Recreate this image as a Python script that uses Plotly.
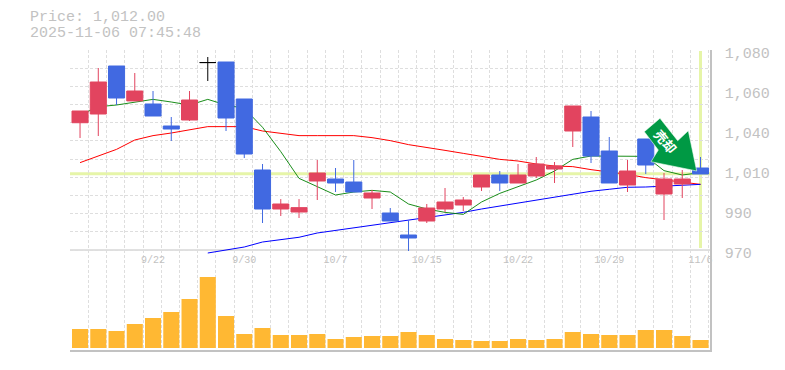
import plotly.graph_objects as go

dates = ["9/16","9/17","9/18","9/19","9/22","9/24","9/25","9/26","9/29","9/30","10/1","10/2","10/3","10/6","10/7","10/8","10/9","10/10","10/14","10/15","10/16","10/17","10/20","10/21","10/22","10/23","10/24","10/27","10/28","10/29","10/30","10/31","11/4","11/5","11/6"]
index = list(range(35))

# up = red body, down = blue body, index 7 is the black doji
opens = [1040.0,1044.8,1071.2,1052.0,1050.3,1038.2,1041.5,1073.1,1073.4,1053.05,1014.0,992.55,990.9,1007.95,1009.05,1007.4,998.6,990.35,978.25,985.95,992.55,994.75,1004.65,1011.25,1006.85,1010.7,1014.55,1035.45,1043.15,1024.45,1005.75,1031.05,1000.8,1006.3,1015.1]
closes = [1046.45,1062.4,1053.6,1057.45,1043.7,1036.55,1052.5,1073.1,1042.6,1022.8,992.55,995.3,993.3,1012.35,1006.85,1001.9,1001.35,985.95,976.6,993.1,996.4,997.5,1011.25,1006.85,1011.25,1017.3,1016.2,1049.2,1021.7,1006.85,1013.45,1016.75,1009.05,1009.05,1011.8]
highs = [1046.45,1070.1,1071.2,1067.35,1057.45,1043.15,1057.45,1076.15,1073.4,1053.05,1017.3,998.0,998.0,1019.5,1015.1,1019.5,1003.0,993.1,986.3,995.3,1004.1,999.15,1011.25,1013.45,1017.3,1021.15,1018.4,1049.2,1046.45,1032.15,1019.5,1031.05,1012.35,1014.0,1021.15]
lows = [1031.6,1032.7,1049.75,1051.95,1043.7,1029.95,1040.95,1062.95,1035.45,1020.6,984.85,988.7,987.6,997.5,1001.9,1001.9,992.55,985.95,969.45,984.85,990.9,991.45,1002.45,1002.45,1006.85,1009.6,1006.85,1026.65,1017.85,1006.85,1001.9,1011.8,986.5,998.6,1011.8]

ma_short = [1044.25,1048.8,1049.75,1051.4,1052.85,1051.4,1049.75,1052.85,1049.75,1047.9,1037.5,1024.1,1009.4,1004.85,1000.25,1001.9,1002.8,1001.9,995.3,992.55,990.7,989.6,996.4,1001.15,1004.85,1008.5,1013.45,1019.85,1021.7,1021.5,1021.5,1021.5,1013.65,1011.25,1012.55]
ma_mid = [1018.05,1021.7,1025.35,1030.5,1032.9,1034.35,1036.0,1037.85,1037.85,1037.85,1035.45,1034.0,1032.9,1032.9,1032.9,1032.9,1031.8,1030.15,1027.95,1026.5,1024.8,1023.15,1021.3,1019.85,1018.95,1017.3,1016.2,1015.85,1014.2,1012.9,1011.6,1009.8,1008.5,1007.0,1006.1]
ma_long = [None]*7 + [968.35,970.0,971.65,974.4,975.5,977.0,979.35,980.8,982.3,983.75,985.2,986.3,987.8,989.45,990.7,992.55,994.2,996.05,997.3,999.3,1001.0,1002.3,1003.4,1004.5,1004.65,1005.2,1005.75,1006.1]

volumes = [57,57,51,72,90,108,147,213,96,42,60,39,39,42,27,33,36,36,48,39,27,24,21,21,27,24,27,48,42,39,39,54,54,36,24]

price_now = 1012
tick_labels = ["9/22","9/30","10/7","10/15","10/22","10/29","11/6"]
tick_index = [4,9,14,19,24,29,34]
price_labels = ["1,080","1,060","1,040","1,010","990","970"]
price_label_pos = [1078.35,1056.35,1034.35,1012.35,990.35,968.35]
grid_prices = list(range(970,1090,10))

W, H = 785, 370
GREY = "#c2c2c2"
GRID = "#dedede"
RED = "#E2445F"
BLUE = "#4169E1"
MONO = "Liberation Mono, DejaVu Sans Mono, monospace"
px = lambda v: v / W
py = lambda v: 1 - v / H

xr = [-0.55, 34.52]
yr = [1080 - 300 * 0.55, 1080]
vr = [-6, 894]

fig = go.Figure()
fig.add_trace(go.Scatter(x=index, y=ma_mid, mode="lines", line=dict(color="#ff0000", width=1), xaxis="x", yaxis="y"))
fig.add_trace(go.Scatter(x=index, y=ma_long, mode="lines", line=dict(color="#0000ff", width=1), xaxis="x", yaxis="y"))
fig.add_trace(go.Scatter(x=index, y=ma_short, mode="lines", line=dict(color="#008000", width=0.9), xaxis="x", yaxis="y"))
fig.add_trace(go.Bar(x=index, y=volumes, marker=dict(color="#FFB833", line=dict(width=0)), width=0.88, xaxis="x", yaxis="y3"))

doji = [i for i in index if closes[i] == opens[i]]
def pick(values, ids):
    return [values[i] if i in ids else None for i in index]
candle_ids = [i for i in index if i not in doji]
fig.add_trace(go.Candlestick(
    x=index, open=pick(opens, candle_ids), high=pick(highs, candle_ids), low=pick(lows, candle_ids), close=pick(closes, candle_ids),
    increasing=dict(line=dict(color=RED, width=1), fillcolor=RED),
    decreasing=dict(line=dict(color=BLUE, width=1), fillcolor=BLUE),
    whiskerwidth=0, xaxis="x2", yaxis="y2"))
fig.add_trace(go.Candlestick(
    x=index, open=pick(opens, doji), high=pick(highs, doji), low=pick(lows, doji), close=pick(closes, doji),
    increasing=dict(line=dict(color="#000000", width=1), fillcolor="#000000"),
    decreasing=dict(line=dict(color="#000000", width=1), fillcolor="#000000"),
    whiskerwidth=0, xaxis="x2", yaxis="y2"))

arrow_pts = [(660,118.3),(644.3,131.7),(658.3,150),(651,161.7),(696.7,171),(688.3,130.7),(677.7,140.7)]
arrow_path = "M " + " L ".join(f"{px(a):.5f} {py(b):.5f}" for a, b in arrow_pts) + " Z"

shapes = [
    dict(type="line", xref="paper", yref="y", x0=px(70), x1=px(710), y0=price_now, y1=price_now,
         line=dict(color="#E6F5A8", width=3), layer="below"),
    dict(type="line", xref="x", yref="paper", x0=34, x1=34, y0=py(248), y1=py(51),
         line=dict(color="#E6F5A8", width=3), layer="below"),
    dict(type="line", xref="paper", yref="y", x0=px(70), x1=px(710), y0=970, y1=970,
         line=dict(color=GREY, width=1), layer="below"),
    dict(type="path", xref="paper", yref="paper", path=arrow_path, fillcolor="#009944",
         line=dict(color="#f4fff4", width=0.6), layer="above"),
]

fig.update_layout(
    width=W, height=H, autosize=False, margin=dict(l=0, r=0, t=0, b=0),
    paper_bgcolor="white", plot_bgcolor="white", showlegend=False, shapes=shapes,
    boxgap=0.12, boxgroupgap=0, hovermode=False,
    xaxis=dict(domain=[px(70), px(710)], range=xr, tickmode="array", automargin=False,
               tickvals=[i - 0.55 for i in range(36)], showticklabels=False, ticks="",
               showgrid=True, gridcolor=GRID, gridwidth=1, griddash="3px,2px",
               showline=True, linecolor=GREY, linewidth=1.5, zeroline=False,
               anchor="y", rangeslider=dict(visible=False)),
    xaxis2=dict(overlaying="x", range=xr, anchor="free", position=py(252), side="bottom", automargin=False,
                tickmode="array", tickvals=tick_index, ticktext=tick_labels, ticks="",
                tickfont=dict(family=MONO, size=10, color=GREY), showgrid=False, showline=False,
                zeroline=False, rangeslider=dict(visible=False)),
    yaxis=dict(domain=[py(350), py(50)], range=yr, tickmode="array", tickvals=grid_prices, automargin=False,
               showticklabels=False, ticks="", showgrid=True, gridcolor=GRID, gridwidth=1,
               griddash="3px,2px", zeroline=False, showline=False, anchor="x"),
    yaxis2=dict(overlaying="y", range=yr, side="right", anchor="x2", tickmode="array", automargin=False,
                tickvals=price_label_pos, ticktext=price_labels, ticks="", ticklabelstandoff=10,
                tickfont=dict(family=MONO, size=15, color=GREY), showgrid=False, zeroline=False,
                showline=True, linecolor=GREY, linewidth=1.5),
    yaxis3=dict(overlaying="y", range=vr, showticklabels=False, ticks="", showgrid=False, automargin=False,
                zeroline=False, showline=False, anchor="x"),
    annotations=[
        dict(text="Price: 1,012.00", xref="paper", yref="paper", x=px(28), y=py(17.5), xanchor="left",
             yanchor="middle", showarrow=False, font=dict(family=MONO, size=15, color=GREY)),
        dict(text="2025-11-06 07:45:48", xref="paper", yref="paper", x=px(28), y=py(33.5), xanchor="left",
             yanchor="middle", showarrow=False, font=dict(family=MONO, size=15, color=GREY)),
        dict(text="<b>売却</b>", xref="paper", yref="paper", x=px(666), y=py(141), xanchor="center",
             yanchor="middle", showarrow=False, textangle=50,
             font=dict(family="Noto Sans CJK JP", size=13, color="white")),
    ],
)
fig.write_html("out.html", post_script="document.body.style.margin='0';", config={"displayModeBar": False})
